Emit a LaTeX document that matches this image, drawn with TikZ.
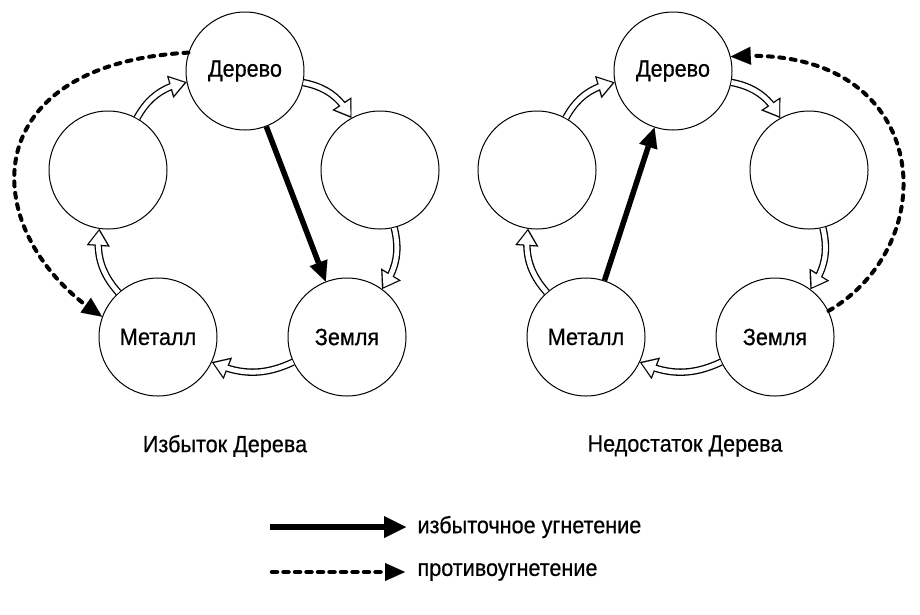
\documentclass[tikz,border=0pt]{standalone}
\usepackage{fontspec}
\setmainfont{Liberation Sans}[FakeStretch=0.92,FakeBold=0.5]
\usetikzlibrary{arrows.meta,bending}
\tikzset{
  x=1pt,y=1pt,
  elem/.style={circle,draw,line width=1pt,fill=white,minimum size=118pt,inner sep=0pt,font=\fontsize{23.5}{27}\selectfont},
  lbl/.style={font=\fontsize{23.5}{27}\selectfont},
  hollowout/.style={line width=7.4pt,-{Triangle[length=17pt,width=23pt,line width=0.01pt]}},
  hollowin/.style={white,line width=4.8pt,shorten >=2.3pt,-{Triangle[length=13.4pt,width=18.1pt,line width=0.01pt]}},
  strong/.style={line width=5.5pt,-{Triangle[length=20pt,width=19pt,line width=0.01pt]}},
  counter/.style={line width=4pt,line cap=round,dash pattern=on 5pt off 6.5pt,-{Triangle[length=20pt,width=18pt,line width=0.01pt]}},
}
\newcommand{\hollowarrow}[2]{%
  \draw[hollowout] (#1) to[bend left=25] (#2);
  \draw[hollowin] (#1) to[bend left=25] (#2);
}
\begin{document}
\begin{tikzpicture}
\useasboundingbox[fill=white] (0,0) rectangle (920,-614);
\node[elem] (DL) at (245,-71) {Дерево};
\node[elem] (AL) at (108,-170) {};
\node[elem] (BL) at (380,-170) {};
\node[elem] (ML) at (158,-337) {Металл};
\node[elem] (ZL) at (347,-337) {Земля};
\node[elem] (DR) at (673,-71) {Дерево};
\node[elem] (AR) at (537,-170) {};
\node[elem] (BR) at (809,-170) {};
\node[elem] (MR) at (586,-337) {Металл};
\node[elem] (ZR) at (775,-337) {Земля};
% hollow cycle arrows
\hollowarrow{DL}{BL}
\hollowarrow{BL}{ZL}
\hollowarrow{ZL}{ML}
\hollowarrow{ML}{AL}
\hollowarrow{AL}{DL}
\hollowarrow{DR}{BR}
\hollowarrow{BR}{ZR}
\hollowarrow{ZR}{MR}
\hollowarrow{MR}{AR}
\hollowarrow{AR}{DR}
% strong arrows
\draw[strong] (DL) -- (ZL);
\draw[strong] (MR) -- (DR);
% counter arrows
\draw[counter] (DL.162) .. controls +(-220,-12) and +(-125,80) .. (ML.160);
\draw[counter] (ZR.26) .. controls +(120,70) and +(200,15) .. (DR.14);
% captions
\node[lbl] (capL) at (225,-446) {Избыток Дерева};
\node[lbl] (capR) at (685,-446) {Недостаток Дерева};
% legend
\coordinate (l1a) at (270,-527);
\coordinate (l1b) at (406,-527);
\coordinate (l2a) at (272,-572);
\coordinate (l2b) at (405,-572);
\draw[line width=6pt,-{Triangle[length=22pt,width=22pt,line width=0.01pt]}] (l1a) -- (l1b);
\draw[line width=4.5pt,line cap=round,dash pattern=on 5pt off 6.5pt,-{Triangle[length=20pt,width=18pt,line width=0.01pt]}] (l2a) -- (l2b);
\node[lbl,anchor=west] (t1) at (414,-527) {избыточное угнетение};
\node[lbl,anchor=west] (t2) at (414,-572) {противоугнетение};
\end{tikzpicture}
\end{document}
